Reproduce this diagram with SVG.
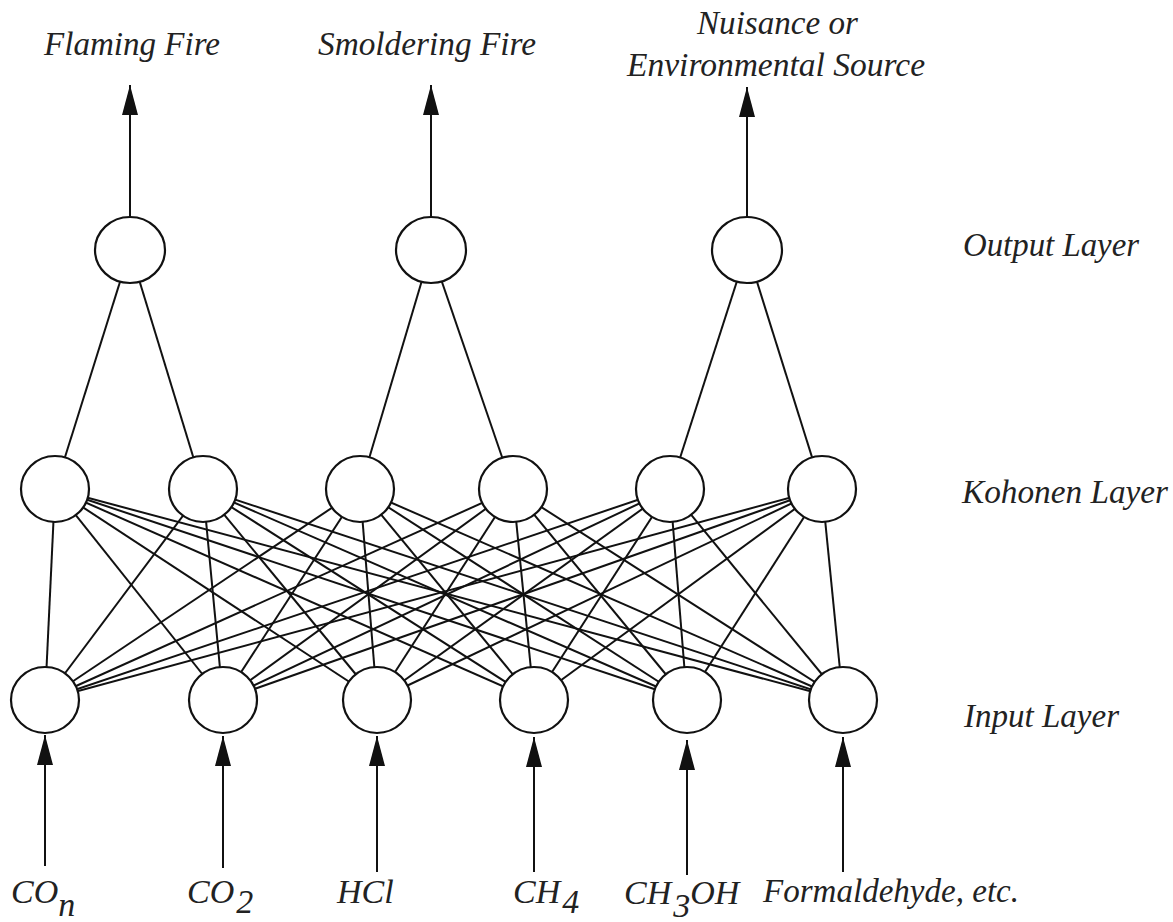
<svg xmlns="http://www.w3.org/2000/svg" width="1173" height="922" viewBox="0 0 1173 922">
<style>
.lbl{font-family:'Liberation Serif','DejaVu Serif',serif;font-style:italic;font-size:34px;fill:#222}
.node{fill:#fff;stroke:#111;stroke-width:2.2}
.edge{stroke:#111;stroke-width:2;fill:none}
.arr{stroke:#111;stroke-width:2;fill:none;marker-end:url(#ah)}
</style>
<defs>
<marker id="ah" viewBox="0 0 30 16" refX="30" refY="8" markerWidth="30" markerHeight="16" markerUnits="userSpaceOnUse" orient="auto">
<path d="M0,0 L30,8 L0,16 z" fill="#111"/>
</marker>
</defs>
<rect width="1173" height="922" fill="#fff"/>
<g id="connectors">
<line class="edge" x1="130" y1="250" x2="55" y2="489"/>
<line class="edge" x1="130" y1="250" x2="203" y2="489"/>
<line class="edge" x1="431" y1="250" x2="360" y2="489"/>
<line class="edge" x1="431" y1="250" x2="513" y2="489"/>
<line class="edge" x1="747" y1="250" x2="670" y2="489"/>
<line class="edge" x1="747" y1="250" x2="822" y2="489"/>
<g id="kohonen-input">
<line class="edge" x1="55" y1="489" x2="45" y2="700"/><line class="edge" x1="55" y1="489" x2="223" y2="700"/><line class="edge" x1="55" y1="489" x2="377" y2="700"/><line class="edge" x1="55" y1="489" x2="534" y2="700"/><line class="edge" x1="55" y1="489" x2="687" y2="700"/><line class="edge" x1="55" y1="489" x2="843" y2="700"/>
<line class="edge" x1="203" y1="489" x2="45" y2="700"/><line class="edge" x1="203" y1="489" x2="223" y2="700"/><line class="edge" x1="203" y1="489" x2="377" y2="700"/><line class="edge" x1="203" y1="489" x2="534" y2="700"/><line class="edge" x1="203" y1="489" x2="687" y2="700"/><line class="edge" x1="203" y1="489" x2="843" y2="700"/>
<line class="edge" x1="360" y1="489" x2="45" y2="700"/><line class="edge" x1="360" y1="489" x2="223" y2="700"/><line class="edge" x1="360" y1="489" x2="377" y2="700"/><line class="edge" x1="360" y1="489" x2="534" y2="700"/><line class="edge" x1="360" y1="489" x2="687" y2="700"/><line class="edge" x1="360" y1="489" x2="843" y2="700"/>
<line class="edge" x1="513" y1="489" x2="45" y2="700"/><line class="edge" x1="513" y1="489" x2="223" y2="700"/><line class="edge" x1="513" y1="489" x2="377" y2="700"/><line class="edge" x1="513" y1="489" x2="534" y2="700"/><line class="edge" x1="513" y1="489" x2="687" y2="700"/><line class="edge" x1="513" y1="489" x2="843" y2="700"/>
<line class="edge" x1="670" y1="489" x2="45" y2="700"/><line class="edge" x1="670" y1="489" x2="223" y2="700"/><line class="edge" x1="670" y1="489" x2="377" y2="700"/><line class="edge" x1="670" y1="489" x2="534" y2="700"/><line class="edge" x1="670" y1="489" x2="687" y2="700"/><line class="edge" x1="670" y1="489" x2="843" y2="700"/>
<line class="edge" x1="822" y1="489" x2="45" y2="700"/><line class="edge" x1="822" y1="489" x2="223" y2="700"/><line class="edge" x1="822" y1="489" x2="377" y2="700"/><line class="edge" x1="822" y1="489" x2="534" y2="700"/><line class="edge" x1="822" y1="489" x2="687" y2="700"/><line class="edge" x1="822" y1="489" x2="843" y2="700"/>
</g>
<line class="arr" x1="130" y1="217" x2="130" y2="85"/>
<line class="arr" x1="431" y1="217" x2="431" y2="85"/>
<line class="arr" x1="747" y1="217" x2="747" y2="87"/>
<line class="arr" x1="45" y1="866" x2="45" y2="735"/>
<line class="arr" x1="223" y1="868" x2="223" y2="736"/>
<line class="arr" x1="377" y1="872" x2="377" y2="736"/>
<line class="arr" x1="534" y1="872" x2="534" y2="737"/>
<line class="arr" x1="687" y1="875" x2="687" y2="740"/>
<line class="arr" x1="843" y1="872" x2="843" y2="737"/>
</g>
<g id="output-1"><ellipse class="node" cx="130" cy="250" rx="35" ry="33"/></g>
<g id="output-2"><ellipse class="node" cx="431" cy="250" rx="35" ry="33"/></g>
<g id="output-3"><ellipse class="node" cx="747" cy="250" rx="35" ry="33"/></g>
<g id="kohonen-1"><ellipse class="node" cx="55" cy="489" rx="34" ry="33"/></g>
<g id="kohonen-2"><ellipse class="node" cx="203" cy="489" rx="34" ry="33"/></g>
<g id="kohonen-3"><ellipse class="node" cx="360" cy="489" rx="34" ry="33"/></g>
<g id="kohonen-4"><ellipse class="node" cx="513" cy="489" rx="34" ry="33"/></g>
<g id="kohonen-5"><ellipse class="node" cx="670" cy="489" rx="34" ry="33"/></g>
<g id="kohonen-6"><ellipse class="node" cx="822" cy="489" rx="34" ry="33"/></g>
<g id="input-1"><ellipse class="node" cx="45" cy="700" rx="34" ry="33"/></g>
<g id="input-2"><ellipse class="node" cx="223" cy="700" rx="34" ry="33"/></g>
<g id="input-3"><ellipse class="node" cx="377" cy="700" rx="34" ry="33"/></g>
<g id="input-4"><ellipse class="node" cx="534" cy="700" rx="34" ry="33"/></g>
<g id="input-5"><ellipse class="node" cx="687" cy="700" rx="34" ry="33"/></g>
<g id="input-6"><ellipse class="node" cx="843" cy="700" rx="34" ry="33"/></g>
<g id="labels" font-family="Liberation Serif, DejaVu Serif, serif" font-style="italic">
<text class="lbl" x="44" y="55" textLength="176" lengthAdjust="spacingAndGlyphs">Flaming Fire</text>
<text class="lbl" x="318" y="55" textLength="218" lengthAdjust="spacingAndGlyphs">Smoldering Fire</text>
<text class="lbl" x="697" y="34" textLength="161" lengthAdjust="spacingAndGlyphs">Nuisance or</text>
<text class="lbl" x="627" y="76" textLength="298" lengthAdjust="spacingAndGlyphs">Environmental Source</text>
<text class="lbl" x="963" y="256" textLength="176" lengthAdjust="spacingAndGlyphs">Output Layer</text>
<text class="lbl" x="962" y="503" textLength="206" lengthAdjust="spacingAndGlyphs">Kohonen Layer</text>
<text class="lbl" x="964" y="727" textLength="155" lengthAdjust="spacingAndGlyphs">Input Layer</text>
<text class="lbl" x="11" y="903">CO<tspan dy="13">n</tspan></text>
<text class="lbl" x="187" y="903">CO<tspan dx="2" dy="10">2</tspan></text>
<text class="lbl" x="337" y="903">HCl</text>
<text class="lbl" x="513" y="903">CH<tspan dx="2" dy="10">4</tspan></text>
<text class="lbl" x="624" y="904">CH<tspan dx="2" dy="13">3</tspan><tspan dy="-13">OH</tspan></text>
<text class="lbl" x="763" y="902" textLength="256" lengthAdjust="spacingAndGlyphs">Formaldehyde, etc.</text>
</g>
</svg>
